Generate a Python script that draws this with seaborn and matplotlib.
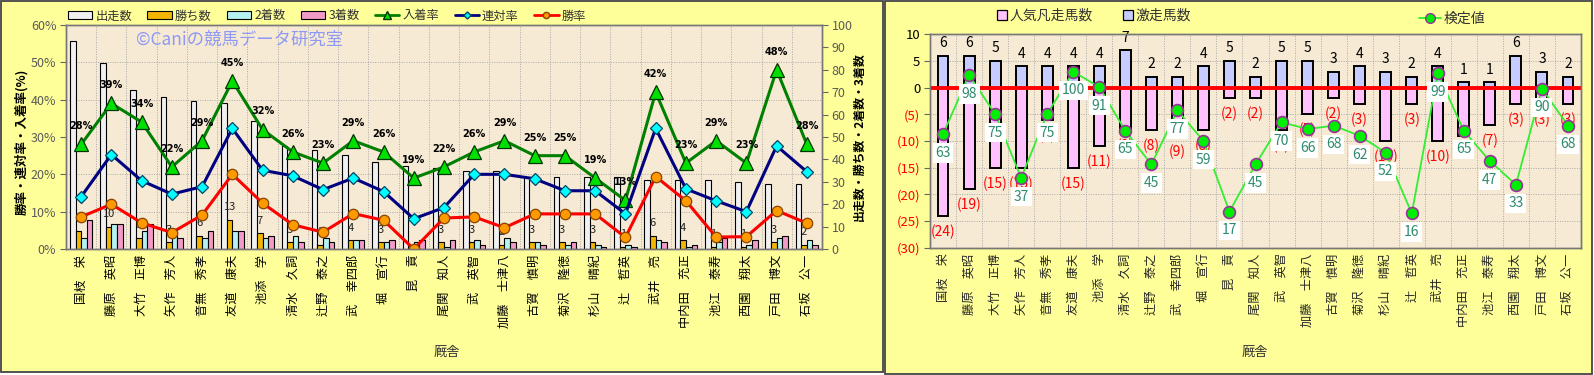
import numpy as np
import pandas as pd
import matplotlib
matplotlib.use("Agg")
import matplotlib.pyplot as plt
import seaborn as sns
from matplotlib.patches import Rectangle, Patch
from matplotlib.lines import Line2D
from matplotlib.ticker import FixedLocator

# ---------------- data ----------------
trainers = ["国枝　栄", "藤原　英昭", "大竹　正博", "矢作　芳人", "音無　秀孝", "友道　康夫",
            "池添　学", "清水　久詞", "辻野　泰之", "武　幸四郎", "堀　宣行", "昆　貢",
            "尾関　知人", "武　英智", "加藤　士津八", "古賀　慎明", "菊沢　隆徳", "杉山　晴紀",
            "辻　哲英", "武井　亮", "中内田　充正", "池江　泰寿", "西園　翔太", "戸田　博文", "石坂　公一"]

runs = [93, 83, 71, 68, 66, 65, 57, 46, 44, 42, 39, 37, 36, 35, 35, 32, 32, 32, 32, 31, 31, 31, 30, 29, 29]
wins = [8, 10, 5, 3, 6, 13, 7, 3, 2, 4, 3, 0, 3, 3, 2, 3, 3, 3, 1, 6, 4, 1, 1, 3, 2]
seconds = [5, 11, 8, 7, 5, 8, 5, 6, 5, 4, 3, 3, 1, 4, 5, 3, 2, 2, 2, 4, 1, 3, 2, 5, 4]
thirds = [13, 11, 11, 5, 8, 8, 6, 3, 3, 4, 4, 4, 4, 2, 3, 2, 3, 1, 1, 3, 2, 5, 4, 6, 2]

win_rate = [8.6, 12.0, 7.0, 4.4, 9.1, 20.0, 12.3, 6.5, 4.5, 9.5, 7.7, 0.0, 8.3, 8.6, 5.7,
            9.4, 9.4, 9.4, 3.1, 19.4, 12.9, 3.2, 3.3, 10.3, 6.9]
rentai_rate = [14.0, 25.3, 18.3, 14.7, 16.7, 32.3, 21.1, 19.6, 15.9, 19.0, 15.4, 8.1, 11.1, 20.0, 20.0,
               18.8, 15.6, 15.6, 9.4, 32.3, 16.1, 12.9, 10.0, 27.6, 20.7]
place_rate = [28, 39, 34, 22, 29, 45, 32, 26, 23, 29, 26, 19, 22, 26, 29, 25, 25, 19, 13, 42, 23, 29, 23, 48, 28]

gekisou = [6, 6, 5, 4, 4, 4, 4, 7, 2, 2, 4, 5, 2, 5, 5, 3, 4, 3, 2, 4, 1, 1, 6, 3, 2]
bonsou = [24, 19, 15, 15, 6, 15, 11, 8, 8, 9, 8, 2, 2, 8, 5, 2, 3, 10, 3, 10, 9, 7, 3, 3, 3]
kentei = [63, 98, 75, 37, 75, 100, 91, 65, 45, 77, 59, 17, 45, 70, 66, 68, 62, 52, 16, 99, 65, 47, 33, 90, 68]

bar_series = ["出走数", "勝ち数", "2着数", "3着数"]
line_series = ["入着率", "連対率", "勝率"]
left_pct_ticks = [0, 10, 20, 30, 40, 50, 60]
left_cnt_ticks = [0, 10, 20, 30, 40, 50, 60, 70, 80, 90, 100]
right_ticks = [-30, -25, -20, -15, -10, -5, 0, 5, 10]

# ---------------- style ----------------
sns.set_style("white")
plt.rcParams["font.family"] = ["Noto Sans CJK JP", "DejaVu Sans"]

PANEL = "#FFFF99"
PLOTBG = "#F6EAD4"
GRID = "#A8A8A8"
bar_colors = ["#F0F0F0", "#F2B600", "#B4F2F2", "#F29AC8"]

W, H = 1594, 375
fig = plt.figure(figsize=(W / 100, H / 100), dpi=100, facecolor="white")


def fx(px):
    return px / W


def fy(py):
    return 1 - py / H


fig.patches.append(Rectangle((fx(1), fy(372)), 882 / W, 371 / H, transform=fig.transFigure,
                             facecolor=PANEL, edgecolor="#444444", lw=1.3, zorder=-10))
fig.patches.append(Rectangle((fx(885), fy(374)), 707 / W, 373 / H, transform=fig.transFigure,
                             facecolor=PANEL, edgecolor="#444444", lw=1.3, zorder=-10))

# ================= LEFT CHART =================
ax = fig.add_axes([fx(66), fy(249), (822 - 66) / W, 224 / H])
ax.set_facecolor(PLOTBG)

df_bar = pd.DataFrame({
    "厩舎": trainers * 4,
    "系列": np.repeat(bar_series, len(trainers)),
    "数": runs + wins + seconds + thirds,
})
sns.barplot(data=df_bar, x="厩舎", y="数", hue="系列", order=trainers, hue_order=bar_series,
            palette=bar_colors, width=0.74, saturation=1, edgecolor="black", linewidth=0.8,
            errorbar=None, legend=False, ax=ax)

for bar, w in zip(ax.containers[1], wins):
    if w > 0:
        ax.annotate(str(w), (bar.get_x() + bar.get_width() / 2, bar.get_height()),
                    xytext=(0, 9), textcoords="offset points", ha="center", va="center",
                    fontsize=8, color="#222222", zorder=4)

ax.set_ylim(0, 100)
ax.set_xlim(-0.5, len(trainers) - 0.5)
ax.set_xlabel("")
ax.set_ylabel("")

ax2 = ax.twinx()
line_specs = [
    (place_rate, "#008000", "^", "#00E000", "#003300", 9.5),
    (rentai_rate, "#000080", "D", "#00FFFF", "#004466", 6.0),
    (win_rate, "#FF0000", "o", "#FF9900", "#884400", 7.5),
]
for vals, lc, mk, mfc, mec, ms in line_specs:
    sns.pointplot(x=trainers, y=vals, order=trainers, color=lc, markers=mk, linestyles="-",
                  errorbar=None, ax=ax2, linewidth=2.2, markersize=ms, markerfacecolor=mfc,
                  markeredgecolor=mec, markeredgewidth=0.9)

pl_line = ax2.lines[0]
for xv, v in zip(pl_line.get_xdata(), place_rate):
    ax2.annotate(f"{v}%", (xv, v), xytext=(0, 13), textcoords="offset points", ha="center",
                 va="center", fontsize=7, fontweight="bold", color="black",
                 family=["DejaVu Sans"])

# count axis on the right, rate axis on the left
ax.yaxis.tick_right()
ax.yaxis.set_label_position("right")
ax.set_yticks(left_cnt_ticks)
ax.set_yticklabels([str(t) for t in left_cnt_ticks], color="#5A5A5A", fontsize=9)
ax.tick_params(axis="y", which="major", length=4, color="#666666", pad=3,
               left=False, right=True, labelleft=False, labelright=True)

ax2.set_ylim(0, 60)
ax2.yaxis.tick_left()
ax2.yaxis.set_label_position("left")
ax2.set_yticks(left_pct_ticks)
ax2.set_yticklabels([f"{t}%" for t in left_pct_ticks], color="#5A5A5A", fontsize=9)
ax2.tick_params(axis="y", length=4, color="#666666", pad=3, left=True, right=False,
                labelleft=True, labelright=False)
ax2.set_ylabel("")
ax2.set_xlabel("")

ax.set_axisbelow(True)
ax.yaxis.set_minor_locator(FixedLocator(np.linspace(0, 100, 7)))
ax.xaxis.set_minor_locator(FixedLocator(np.arange(0.5, len(trainers) - 1, 1)))
ax.grid(which="major", visible=False)
ax.grid(which="minor", color=GRID, linestyle=(0, (1, 1.5)), linewidth=0.7)
ax.tick_params(which="minor", length=0)
ax.tick_params(axis="x", which="major", length=0, pad=4, labelrotation=90, labelsize=8.8)
for lab in ax.get_xticklabels():
    lab.set_color("black")
for a in (ax, ax2):
    for s in a.spines.values():
        s.set_color("#777777")
        s.set_linewidth(1)

fig.text(fx(240), fy(40), "©Caniの競馬データ研究室", ha="center", va="center",
         fontsize=12.5, color="#8E98F6", family=["Noto Sans CJK JP", "DejaVu Sans"])

fig.text(fx(22), fy(142), "勝率・連対率・入着率(%)", rotation=90, ha="center", va="center",
         fontsize=9, fontweight="bold", color="black")
fig.text(fx(859), fy(137), "出走数・勝ち数・2着数・3着数", rotation=90, ha="center", va="center",
         fontsize=8.6, fontweight="bold", color="black")
fig.text(fx(447), fy(352), "厩舎", ha="center", va="center", fontsize=9.5, color="#333333")

handles = [Patch(facecolor=c, edgecolor="black", linewidth=0.8) for c in bar_colors]
for vals, lc, mk, mfc, mec, ms in line_specs:
    handles.append(Line2D([], [], color=lc, marker=mk, markerfacecolor=mfc, markeredgecolor=mec,
                          markersize=ms * 0.6, lw=2))
fig.legend(handles, bar_series + line_series, loc="center", bbox_to_anchor=(fx(327), fy(16)),
           ncol=7, frameon=False, fontsize=8.8, handlelength=2.0, handleheight=0.55,
           handletextpad=0.25, columnspacing=1.25, borderaxespad=0, labelcolor="#333333")

# ================= RIGHT CHART =================
axr = fig.add_axes([fx(930), fy(247.7), (1581 - 930) / W, (247.7 - 34.3) / H])
axr.set_facecolor(PLOTBG)

sns.barplot(x=trainers, y=gekisou, order=trainers, color="#C6CCFF", width=0.42, saturation=1,
            edgecolor="black", linewidth=1.4, errorbar=None, ax=axr)
sns.barplot(x=trainers, y=[-b for b in bonsou], order=trainers, color="#FFC2FF", width=0.42,
            saturation=1, edgecolor="black", linewidth=1.4, errorbar=None, ax=axr)

for bar, v in zip(axr.containers[0], gekisou):
    axr.annotate(str(v), (bar.get_x() + bar.get_width() / 2, bar.get_height()), xytext=(0, 9),
                 textcoords="offset points", ha="center", va="center", fontsize=10, color="black")
for bar, v in zip(axr.containers[1], bonsou):
    axr.annotate(f"({v})", (bar.get_x() + bar.get_width() / 2, bar.get_height()), xytext=(0, -11.5),
                 textcoords="offset points", ha="center", va="center", fontsize=10, color="#FF0000")

axr.axhline(0, color="#FF0000", lw=2.8, zorder=5)
axr.set_ylim(-30, 10)
axr.set_xlim(-0.5, len(trainers) - 0.5)
axr.set_xlabel("")
axr.set_ylabel("")

axr3 = axr.twinx()
sns.pointplot(x=trainers, y=kentei, order=trainers, color="#33EE33", markers="o", linestyles="-",
              errorbar=None, ax=axr3, linewidth=1.3, markersize=8.5, markerfacecolor="#00EE00",
              markeredgecolor="#993399", markeredgewidth=1.2)
kt_line = axr3.lines[0]
for xv, v in zip(kt_line.get_xdata(), kentei):
    axr3.annotate(str(v), (xv, v), xytext=(0, -13.5), textcoords="offset points", ha="center",
                  va="center", fontsize=10, color="#2E8B6E", zorder=6,
                  bbox=dict(boxstyle="square,pad=0.2", facecolor="white", edgecolor="none"))
axr3.set_ylim(-4.4, 122.2)
axr3.set_yticks([])
axr3.set_ylabel("")
axr3.set_xlabel("")

axr.yaxis.tick_left()
axr.set_yticks(right_ticks)
axr.set_yticklabels([str(t) if t >= 0 else f"({-t})" for t in right_ticks], fontsize=9.5)
for lab, t in zip(axr.get_yticklabels(), right_ticks):
    lab.set_color("black" if t >= 0 else "#FF0000")
axr.tick_params(axis="y", length=4, color="#666666", pad=3, left=True, right=False,
                labelleft=True, labelright=False)

axr.set_axisbelow(True)
axr.xaxis.set_minor_locator(FixedLocator(np.arange(0.5, len(trainers) - 1, 1)))
axr.grid(which="major", axis="y", color=GRID, linestyle=(0, (1, 1.5)), linewidth=0.7)
axr.grid(which="minor", axis="x", color=GRID, linestyle=(0, (1, 1.5)), linewidth=0.7)
axr.tick_params(which="minor", length=0)
axr.tick_params(axis="x", which="major", length=0, pad=4, labelrotation=90, labelsize=8.8)
for a in (axr, axr3):
    for s in a.spines.values():
        s.set_color("#777777")
        s.set_linewidth(1)

fig.text(fx(1255), fy(352), "厩舎", ha="center", va="center", fontsize=9.5, color="#333333")

h_r = [Patch(facecolor="#FFC2FF", edgecolor="black", linewidth=0.9),
       Patch(facecolor="#C6CCFF", edgecolor="black", linewidth=0.9)]
fig.legend(h_r, ["人気凡走馬数", "激走馬数"], loc="center", bbox_to_anchor=(fx(1094), fy(16)),
           ncol=2, frameon=False, fontsize=10, handlelength=0.7, handleheight=0.7,
           handletextpad=0.2, columnspacing=2.2, borderaxespad=0, labelcolor="#333333")
h_k = [Line2D([], [], color="#33EE33", marker="o", markerfacecolor="#00EE00",
              markeredgecolor="#993399", markersize=7, lw=1.3)]
fig.legend(h_k, ["検定値"], loc="center", bbox_to_anchor=(fx(1452), fy(19)), frameon=False,
           fontsize=10, handlelength=1.6, handletextpad=0.2, borderaxespad=0, labelcolor="#333333")

fig.savefig("out.png", dpi=100, facecolor="white")
